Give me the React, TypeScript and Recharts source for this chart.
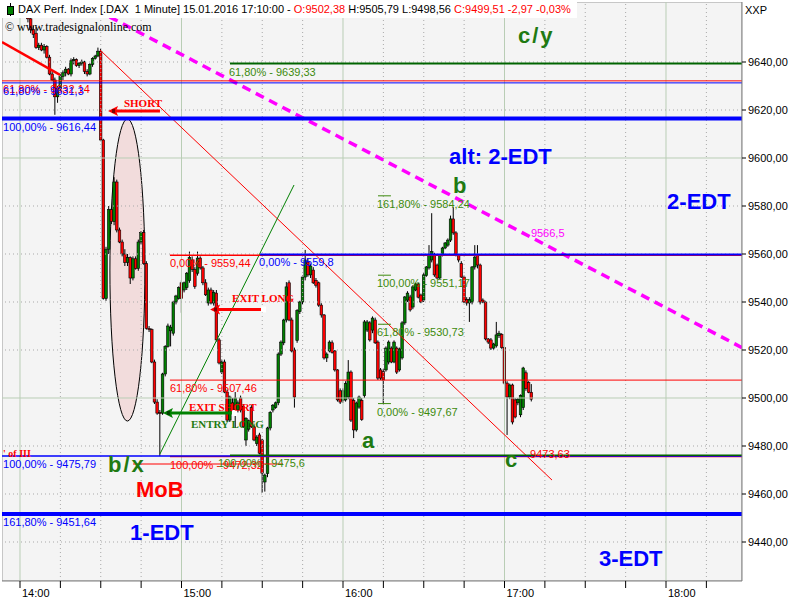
import React from 'react';
import {
  ComposedChart,
  Bar,
  XAxis,
  YAxis,
  ReferenceLine,
  ReferenceDot,
  ReferenceArea,
} from 'recharts';

// DAX 1-minute candles, 15.01.2016 - first bar is 14:03, last bar 17:10
const FIRST_MINUTE = 3;

const opens = [
  9661, 9658, 9653.5, 9652, 9646, 9647, 9645, 9646.5, 9642, 9635,
  9632.5, 9625.5, 9629, 9634, 9635.5, 9637, 9635, 9640.5, 9641, 9638.5,
  9639.5, 9640, 9636, 9635, 9639, 9641.5, 9642.5, 9644.5, 9607.5, 9541.5,
  9562, 9578.5, 9573.5, 9590, 9570, 9565, 9560, 9556.5, 9558.5, 9550,
  9558, 9554, 9565, 9569, 9556, 9529, 9528.5, 9515, 9498.3, 9494,
  9493.7, 9510, 9521.5, 9528, 9527, 9540, 9541.5, 9548, 9545, 9546,
  9549, 9557.5, 9553.5, 9552, 9558.3, 9554.2, 9548, 9539.6, 9545, 9539.6,
  9543.7, 9524.2, 9510.8, 9515, 9502.5, 9490.8, 9498, 9495, 9495, 9500,
  9496.5, 9482.5, 9487, 9496, 9488, 9481, 9484.6, 9482.5, 9465, 9468.5,
  9487.5, 9495, 9496, 9498, 9518.3, 9523, 9532.5, 9548, 9532.5, 9520,
  9524, 9536, 9540, 9550.4, 9556.7, 9551.3, 9553.3, 9549, 9548, 9538.7,
  9534.6, 9516.7, 9519.6, 9523, 9519.6, 9511.7, 9503, 9499, 9499.2, 9500.4,
  9510.8, 9499, 9486.7, 9496.2, 9499, 9501, 9528.3, 9531.3, 9528.3, 9532.5,
  9523.3, 9511.7, 9511, 9511.7, 9515, 9520.8, 9515, 9520.8, 9511.7, 9516.7,
  9531.3, 9540.8, 9542.1, 9537.9, 9545, 9547.5, 9542.9, 9540.8, 9551, 9554.2,
  9557.5, 9559.6, 9555.4, 9550, 9559.6, 9562.5, 9563.7, 9565.8, 9574.6, 9568.8,
  9559.6, 9556, 9550.4, 9541, 9539.6, 9540, 9554.6, 9559.6, 9555.4, 9540.8,
  9540, 9524.6, 9524.2, 9520.8, 9521.7, 9526, 9526.5, 9521, 9506.2, 9500.4,
  9505.4, 9499.2, 9498, 9493, 9496, 9510.5, 9506.5, 9502.38,
];

const highs = [
  9662, 9659, 9655, 9654.5, 9648, 9648, 9647.5, 9647, 9643, 9636,
  9633.5, 9630, 9635, 9636.5, 9638, 9637.5, 9641.5, 9642, 9641.5, 9640,
  9641, 9640.5, 9637, 9639.5, 9642, 9643, 9646, 9645.5, 9608, 9563,
  9580, 9579, 9592, 9591, 9571, 9566, 9562, 9560, 9559, 9559,
  9559, 9566, 9569.5, 9570, 9557, 9530, 9529, 9516, 9499.5, 9495,
  9510.5, 9522, 9531, 9530.5, 9540.5, 9543, 9546.5, 9549, 9548.5, 9552.5,
  9561, 9559, 9554.5, 9561, 9559, 9555, 9549.5, 9546, 9546, 9545,
  9545, 9525, 9516, 9516, 9503.5, 9501, 9500, 9502.5, 9499, 9501,
  9497, 9492, 9491, 9497, 9489, 9484.5, 9485.5, 9483, 9468.5, 9488,
  9494.5, 9497.5, 9498.5, 9519, 9524, 9533, 9548.3, 9549, 9533.5, 9521,
  9537, 9540.5, 9551, 9561.7, 9558, 9556, 9554.5, 9550, 9548.5, 9539.5,
  9535, 9519, 9524, 9524, 9520, 9512, 9504, 9504, 9507, 9515.8,
  9511.5, 9500, 9498.5, 9501, 9500, 9532.5, 9532.5, 9532, 9534, 9533.5,
  9524, 9512.5, 9512, 9521.5, 9524, 9521.5, 9524, 9521.5, 9521, 9532,
  9542.5, 9544.5, 9543, 9547, 9548, 9548, 9543.5, 9552, 9555, 9563.7,
  9577, 9560.5, 9556, 9560, 9563, 9565, 9566.5, 9576, 9579.5, 9569.5,
  9560, 9557, 9551, 9542, 9542, 9555, 9563.7, 9563.7, 9556, 9541.5,
  9540.5, 9525, 9525, 9523, 9531.7, 9528, 9527, 9521.5, 9507, 9506,
  9506, 9500, 9500, 9501.5, 9513, 9511.5, 9507, 9505.79,
];

const lows = [
  9656.5, 9652, 9650, 9645.5, 9645, 9644.5, 9643.5, 9641.5, 9634.5, 9632,
  9618, 9623, 9628, 9632.5, 9634, 9634.5, 9634, 9639, 9638, 9637.5,
  9638.5, 9635, 9634, 9634.5, 9638, 9641, 9642, 9607, 9541, 9540.5,
  9560, 9572.5, 9572, 9569, 9564.5, 9559, 9555, 9555, 9547.5, 9549,
  9553.5, 9553, 9564, 9555.5, 9528.5, 9527.5, 9514.5, 9497.5, 9493, 9475.79,
  9493, 9509, 9521, 9521.5, 9526, 9539, 9541, 9535.5, 9544, 9545,
  9548, 9552.5, 9545.5, 9551, 9553.5, 9547, 9542.5, 9538.5, 9539, 9538.5,
  9523.5, 9514, 9510, 9502, 9490, 9490, 9493, 9487.5, 9494, 9494,
  9487.5, 9480, 9486, 9487.5, 9482, 9480, 9476.5, 9460.5, 9461, 9467,
  9486.5, 9494, 9495.5, 9497, 9517.5, 9522, 9531.5, 9532, 9519, 9496,
  9523, 9535, 9539, 9549, 9550.5, 9550, 9547.5, 9546, 9538, 9533.5,
  9516, 9515, 9519, 9518.5, 9511, 9498.5, 9497.5, 9498, 9498.5, 9499.5,
  9490, 9483.3, 9486, 9495.5, 9490.5, 9500, 9527.5, 9523.5, 9527, 9522.5,
  9507.5, 9507.5, 9497.67, 9511, 9514, 9514.5, 9514.5, 9510, 9511, 9516,
  9530.5, 9540, 9536, 9537, 9544.5, 9541.5, 9539.5, 9540, 9550.5, 9553.5,
  9556.5, 9550.5, 9549.5, 9549.5, 9559, 9562, 9563, 9565, 9568, 9559,
  9556.5, 9550, 9539.5, 9538.5, 9531.7, 9539, 9553.5, 9554, 9539, 9539.5,
  9524, 9522.5, 9520, 9520, 9521, 9525, 9520.5, 9505.5, 9484.6, 9499.5,
  9489, 9491.5, 9497, 9492, 9495, 9503, 9502, 9498.56,
];

const closes = [
  9658, 9653.5, 9651.5, 9646, 9647, 9645, 9646.5, 9642, 9635, 9632.5,
  9625.5, 9629, 9634, 9635.5, 9637, 9635, 9640.5, 9641, 9638.5, 9639.5,
  9640, 9636, 9635, 9639, 9641.5, 9642.5, 9644.5, 9607.5, 9541.5, 9562,
  9578.5, 9573.5, 9590, 9570, 9565, 9560, 9556.5, 9558.5, 9550, 9558,
  9554, 9565, 9569, 9556, 9529, 9528.5, 9515, 9498.3, 9493.7, 9493.7,
  9510, 9521.5, 9530, 9529.5, 9540, 9542.5, 9546, 9541.5, 9548, 9552,
  9558.5, 9553.5, 9546.5, 9558.3, 9554.2, 9548, 9543, 9545, 9539.6, 9544,
  9524.2, 9514.6, 9515, 9502.5, 9490.8, 9500.4, 9494, 9500, 9498, 9495,
  9488, 9491.5, 9490.5, 9488, 9482.5, 9483.7, 9477, 9468.7, 9467.9, 9487.5,
  9494, 9497, 9498, 9518.3, 9523.3, 9532.5, 9546.3, 9532.5, 9519.6, 9500.4,
  9536.5, 9540, 9550.4, 9557.5, 9551.3, 9555, 9548, 9547, 9538.7, 9534.6,
  9516.7, 9518.3, 9523.3, 9519, 9511.7, 9499.2, 9498.3, 9503, 9506, 9510.8,
  9490.8, 9486.7, 9497.9, 9500.4, 9491, 9531.7, 9531.7, 9524.2, 9533.3, 9523,
  9508.3, 9508.3, 9507.5, 9520.8, 9523.3, 9515, 9523.3, 9510.8, 9520.4, 9531.3,
  9542.1, 9543.7, 9536.7, 9546.3, 9547.5, 9542, 9540, 9551.3, 9554.6, 9559.6,
  9561, 9551.3, 9550, 9559.6, 9562.5, 9564.6, 9565.8, 9574.6, 9568.8, 9559.6,
  9557.5, 9550.4, 9540, 9539.6, 9541, 9554.6, 9558.7, 9555.4, 9540, 9540,
  9524.6, 9523.3, 9520.8, 9522.5, 9526.3, 9527, 9521, 9506.2, 9500.4, 9505.4,
  9490, 9492.1, 9499.5, 9501, 9512.5, 9504, 9502.4, 9499.51,
];

// axes: minutes after 14:00 on x, index points on y
const X_DOMAIN: [number, number] = [-6.69, 268.23];
const Y_DOMAIN: [number, number] = [9423.75, 9665];
const quarterTicks = [0, 15, 30, 45, 60, 75, 90, 105, 120, 135, 150, 165, 180, 195, 210, 225, 240, 255];
const priceTicks = [9440, 9460, 9480, 9500, 9520, 9540, 9560, 9580, 9600, 9620, 9640];

const RED = '#ff0000';
const BLUE = '#0000ff';
const DKGREEN = '#006400';
const FIBGREEN = '#3c8a0c';
const LBLGREEN = '#1f7a12';
const MAGENTA = '#ff00ff';
const SANS = '"Liberation Sans", Arial, sans-serif';
const SERIF = '"Liberation Serif", "Times New Roman", serif';

// horizontal levels: price, optional start/end minute
const levelLines = [
  { price: 9639.33, from: 78, color: DKGREEN, width: 2 },
  { price: 9632.14, color: RED, width: 1 },
  { price: 9631.3, color: BLUE, width: 1 },
  { price: 9616.44, color: BLUE, width: 4 },
  { price: 9559.44, from: 55.7, color: RED, width: 1.5 },
  { price: 9559.8, from: 89.2, color: BLUE, width: 2 },
  { price: 9507.46, from: 55.7, color: RED, width: 1 },
  { price: 9472.5, from: 42, to: 97.7, color: RED, width: 1 },
  { price: 9475.6, from: 55.7, color: RED, width: 1.5 },
  { price: 9475.79, color: BLUE, width: 1.5 },
  { price: 9476.1, from: 78, color: DKGREEN, width: 1.5 },
  { price: 9451.64, color: BLUE, width: 4 },
  { price: 9584.24, from: 133, to: 137.8, color: FIBGREEN, width: 1 },
  { price: 9551.17, from: 133, to: 137.8, color: FIBGREEN, width: 1 },
  { price: 9530.73, from: 133, to: 137.8, color: FIBGREEN, width: 1 },
  { price: 9497.67, from: 133, to: 137.8, color: FIBGREEN, width: 1 },
];

// retracement captions, written just under their level
const levelLabels = [
  { text: '61,80% - 9639,33', t: 77.6, price: 9639.33, color: FIBGREEN },
  { text: '61,80% - 9632,14', t: -6.3, price: 9632.14, color: RED },
  { text: '61,80% - 9631,3', t: -6.3, price: 9631.3, color: BLUE },
  { text: '100,00% - 9616,44', t: -6.3, price: 9616.44, color: BLUE },
  { text: '0,00% - 9559,44', t: 55.7, price: 9559.44, color: RED },
  { text: '0,00% - 9559,8', t: 88.8, price: 9559.8, color: BLUE },
  { text: '61,80% - 9507,46', t: 55.7, price: 9507.46, color: RED },
  { text: '100,00% - 9475,79', t: -6.3, price: 9475.79, color: BLUE },
  { text: '100,00% - 9472,32', t: 55.7, price: 9475.6, color: RED },
  { text: '100,00% - 9475,6', t: 73.6, price: 9476.1, color: FIBGREEN },
  { text: '161,80% - 9451,64', t: -6.3, price: 9451.64, color: BLUE },
  { text: '161,80% - 9584,24', t: 132.6, price: 9584.24, color: FIBGREEN },
  { text: '100,00% - 9551,17', t: 132.6, price: 9551.17, color: FIBGREEN },
  { text: '61,80% - 9530,73', t: 132.6, price: 9530.73, color: FIBGREEN },
  { text: '0,00% - 9497,67', t: 132.6, price: 9497.67, color: FIBGREEN },
];

// wave counts and notes (baseline at the given point)
const notes = [
  { text: 'c/y', t: 185, price: 9647.9, color: LBLGREEN, size: 22, spacing: 2 },
  { text: 'alt: 2-EDT', t: 159.4, price: 9597.5, color: BLUE, size: 22 },
  { text: 'b', t: 160.9, price: 9585.4, color: LBLGREEN, size: 22 },
  { text: '2-EDT', t: 240.4, price: 9578.75, color: BLUE, size: 22 },
  { text: 'a', t: 127.1, price: 9479.2, color: LBLGREEN, size: 22 },
  { text: 'c', t: 180.2, price: 9471.25, color: LBLGREEN, size: 22 },
  { text: 'b/x', t: 32.7, price: 9469.2, color: LBLGREEN, size: 22, spacing: 2 },
  { text: 'MoB', t: 43.1, price: 9458.75, color: RED, size: 22 },
  { text: '1-EDT', t: 40.9, price: 9440.8, color: BLUE, size: 22 },
  { text: '3-EDT', t: 215.1, price: 9430, color: BLUE, size: 22 },
];

const signals = [
  { text: 'SHORT', t: 38.6, price: 9621.25, color: RED },
  { text: 'EXIT LONG', t: 78.8, price: 9540, color: RED },
  { text: 'EXIT SHORT', t: 62.8, price: 9494.6, color: RED },
  { text: 'ENTRY LONG', t: 63.5, price: 9487.5, color: LBLGREEN },
];

// arrows: tail minute -> head minute at a price
const arrows = [
  { from: 52, to: 32.7, price: 9619.6, color: RED, marker: false },
  { from: 89.9, to: 70.6, price: 9536.9, color: RED, marker: true },
  { from: 79.1, to: 53.1, price: 9493.75, color: '#008000', marker: true },
];

const candles = opens.map((open, i) => ({
  t: FIRST_MINUTE + i,
  open,
  high: highs[i],
  low: lows[i],
  close: closes[i],
  range: [lows[i], highs[i]],
}));

const Candle = (props: any) => {
  const { x, y, width, height, payload } = props;
  if (x == null || y == null) return null;
  const { open, close, high, low } = payload;
  const cx = x + width / 2;
  const top = Math.min(y, y + height);
  const h = Math.abs(height);
  const k = high > low ? h / (high - low) : 0;
  const yo = top + (high - open) * k;
  const yc = top + (high - close) * k;
  const bodyTop = Math.min(yo, yc);
  const bodyH = Math.max(Math.abs(yc - yo), 1);
  return (
    <g>
      <line x1={cx} x2={cx} y1={top} y2={top + h} stroke="#000" strokeWidth={1} />
      <rect x={cx - 1.3} y={bodyTop} width={2.6} height={bodyH}
        fill={close >= open ? '#008000' : RED} stroke="#000" strokeWidth={0.6} />
    </g>
  );
};

const textShape = (text: string, color: string, size: number, opts: any = {}) => (p: any) => (
  <text x={p.cx} y={p.cy + (opts.dy || 0)} fill={color} fontSize={size}
    fontFamily={opts.family || SANS} fontWeight={opts.weight || 'normal'}
    letterSpacing={opts.spacing || 0}>
    {text}
  </text>
);

const arrowShape = (color: string, marker: boolean) => (p: any) => {
  const { x1, y1, x2 } = p;
  const y = y1;
  return (
    <g>
      <line x1={x1} y1={y} x2={x2 + 6} y2={y} stroke={color} strokeWidth={3} />
      <polygon points={`${x2},${y} ${x2 + 10},${y - 5} ${x2 + 8},${y} ${x2 + 10},${y + 5}`} fill={color} />
      <rect x={x2 + 4} y={y - 2} width={3} height={4} fill="#000" opacity={0.5} />
      {marker && <rect x={x1 - 1} y={y - 3} width={5} height={6} fill="#fff" />}
    </g>
  );
};

const ellipseShape = (p: any) => (
  <ellipse cx={p.x + p.width / 2} cy={p.y + p.height / 2} rx={p.width / 2} ry={p.height / 2}
    fill="#f2dcdc" stroke="#000" strokeWidth={1} />
);

const TimeTick = (p: any) => {
  const v = p.payload.value;
  if (v % 60 !== 0) return null;
  return (
    <text x={p.x + 2} y={p.y + 7} fill="#000" fontSize={11} fontFamily={SANS} textAnchor="start">
      {`${14 + v / 60}:00`}
    </text>
  );
};

const App = () => {
  const [x0, x1] = X_DOMAIN;
  return (
    <div style={{ position: 'absolute', left: 0, top: 0, width: 800, height: 600, background: '#fff', overflow: 'hidden' }}>
      <ComposedChart width={800} height={600} data={candles}
        margin={{ top: 2, right: 0, bottom: 0, left: 2 }}>
        <XAxis dataKey="t" type="number" domain={X_DOMAIN} allowDataOverflow ticks={quarterTicks}
          tick={<TimeTick />} tickSize={7} height={19} interval={0}
          axisLine={{ stroke: '#808080' }} tickLine={{ stroke: '#000' }} />
        <YAxis orientation="right" type="number" domain={Y_DOMAIN} allowDataOverflow ticks={priceTicks}
          width={58} tickSize={4} tickMargin={2} interval={0}
          tickFormatter={(v: number) => v.toFixed(2).replace('.', ',')}
          tick={{ fill: '#000', fontSize: 11, fontFamily: SANS }}
          axisLine={{ stroke: '#808080' }} tickLine={{ stroke: '#000' }} />

        <ReferenceArea x1={x0} x2={x1} y1={Y_DOMAIN[0]} y2={Y_DOMAIN[1]} fill="#f4f4f4" fillOpacity={1}
          stroke="#9a9a9a" ifOverflow="hidden" />

        {quarterTicks.map((t) => (
          <ReferenceLine key={`vx${t}`} x={t}
            stroke={t % 60 === 0 ? '#b9cdb5' : '#a9a9a9'}
            strokeDasharray={t % 60 === 0 ? undefined : '1 3'} />
        ))}
        {priceTicks.map((p) => (
          <ReferenceLine key={`hy${p}`} y={p}
            stroke={p % 100 === 0 ? '#b9cdb5' : '#a9a9a9'}
            strokeDasharray={p % 100 === 0 ? undefined : '1 3'} />
        ))}

        <ReferenceArea x1={33.4} x2={46.4} y1={9490.4} y2={9616.25} shape={ellipseShape} ifOverflow="visible" />

        <Bar dataKey="range" barSize={3} shape={<Candle />} isAnimationActive={false} />

        {/* trend lines */}
        <ReferenceLine segment={[{ x: x0, y: 9648.3 }, { x: 14.86, y: 9634.6 }]} stroke={RED} strokeWidth={2.5} ifOverflow="hidden" />
        <ReferenceLine segment={[{ x: 29.72, y: 9645 }, { x: 197.65, y: 9465.8 }]} stroke={RED} strokeWidth={1} ifOverflow="hidden" />
        <ReferenceLine segment={[{ x: 52, y: 9476.7 }, { x: 101.8, y: 9588.75 }]} stroke="#008000" strokeWidth={1} ifOverflow="hidden" />
        <ReferenceLine segment={[{ x: 23.4, y: 9664.6 }, { x: x1, y: 9521 }]} stroke={MAGENTA} strokeWidth={3.5}
          strokeDasharray="9 6" ifOverflow="hidden" />

        {levelLines.map((l, i) =>
          l.from == null ? (
            <ReferenceLine key={`lv${i}`} y={l.price} stroke={l.color} strokeWidth={l.width} />
          ) : (
            <ReferenceLine key={`lv${i}`} segment={[{ x: l.from, y: l.price }, { x: l.to ?? x1, y: l.price }]}
              stroke={l.color} strokeWidth={l.width} ifOverflow="hidden" />
          ),
        )}

        {levelLabels.map((l, i) => (
          <ReferenceDot key={`ll${i}`} x={l.t} y={l.price} ifOverflow="visible"
            shape={textShape(l.text, l.color, 11, { dy: 12 })} />
        ))}
        <ReferenceDot x={189.8} y={9567.1} ifOverflow="visible" shape={textShape('9566,5', MAGENTA, 11)} />
        <ReferenceDot x={189.5} y={9475} ifOverflow="visible" shape={textShape('9473,63', RED, 11)} />
        <ReferenceDot x={-6.3} y={9475.6} ifOverflow="visible"
          shape={textShape("' of III", RED, 10, { weight: 'bold', family: SERIF })} />

        {arrows.map((a, i) => (
          <ReferenceLine key={`ar${i}`} segment={[{ x: a.from, y: a.price }, { x: a.to, y: a.price }]}
            shape={arrowShape(a.color, a.marker)} ifOverflow="visible" />
        ))}
        {signals.map((s, i) => (
          <ReferenceDot key={`sg${i}`} x={s.t} y={s.price} ifOverflow="visible"
            shape={textShape(s.text, s.color, 11, { weight: 'bold', family: SERIF })} />
        ))}
        {notes.map((n, i) => (
          <ReferenceDot key={`nt${i}`} x={n.t} y={n.price} ifOverflow="visible"
            shape={textShape(n.text, n.color, n.size, { weight: 'bold', spacing: n.spacing })} />
        ))}
      </ComposedChart>

      <div style={{ position: 'absolute', left: 0, top: 0, width: 577, height: 18, background: '#fff',
        fontFamily: SANS, fontSize: 11, lineHeight: '18px', whiteSpace: 'pre', color: '#000' }}>
        <span style={{ position: 'absolute', left: 10, top: 3, width: 1, height: 13, background: '#000' }} />
        <span style={{ position: 'absolute', left: 7, top: 6, width: 5, height: 7, background: '#008000', border: '1px solid #000' }} />
        <span style={{ position: 'absolute', left: 18, top: 0 }}>
          {'DAX Perf. Index [.DAX  1 Minute] 15.01.2016 17:10:00 - '}
          <span style={{ color: RED }}>O:9502,38</span>
          {' H:9505,79 L:9498,56 '}
          <span style={{ color: RED }}>C:9499,51 -2,97 -0,03%</span>
        </span>
      </div>
      <div style={{ position: 'absolute', left: 5, top: 20, fontFamily: SERIF, fontSize: 12, color: '#000' }}>
        © www.tradesignalonline.com
      </div>
      <div style={{ position: 'absolute', left: 745, top: 4, fontFamily: SANS, fontSize: 11, color: '#000' }}>XXP</div>
    </div>
  );
};

export default App;
